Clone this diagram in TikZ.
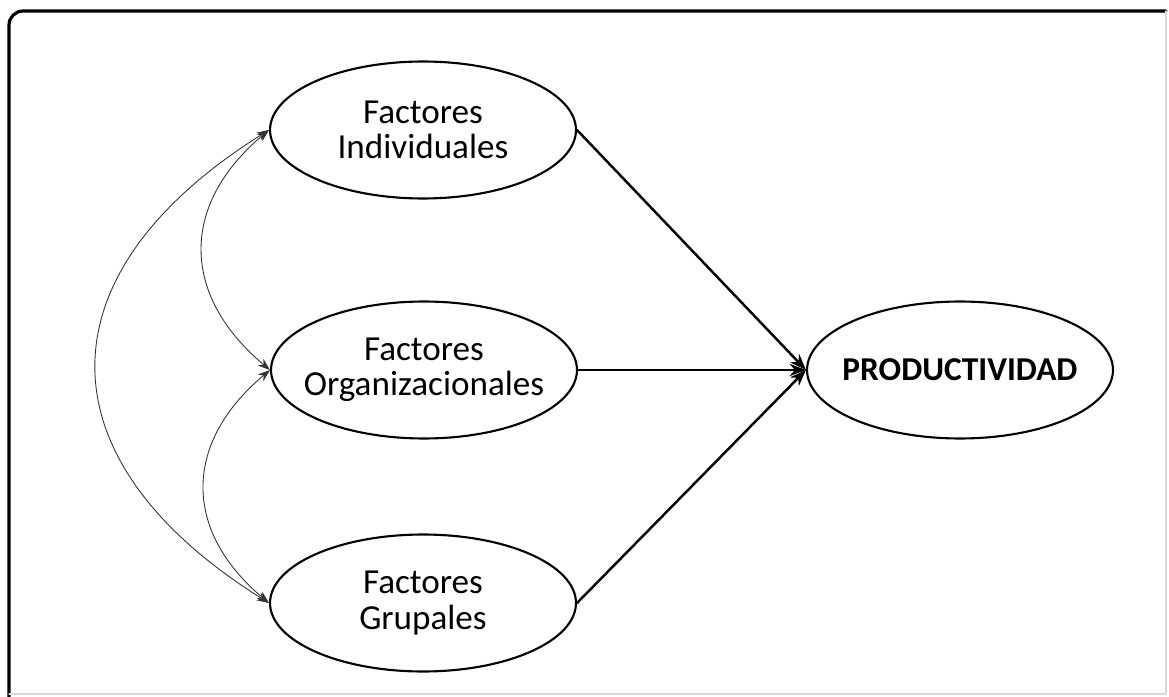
\documentclass[tikz,border=0pt]{standalone}
\usepackage{fontspec}
\setmainfont{Carlito}
\usetikzlibrary{shapes.geometric,arrows.meta}
\begin{document}
\begin{tikzpicture}[x=0.02cm, y=-0.02cm, >=Stealth, line join=round, line cap=round,
		factor/.style={ellipse, draw, line width=1.2pt, minimum width=6.12cm, minimum height=2.74cm, inner xsep=-0.4cm, inner ysep=0pt, align=center, font=\fontsize{20}{20}\selectfont},
		flecha/.style={->, line width=1.4pt},
		enlace/.style={{Stealth[length=7pt,width=5pt]}-{Stealth[length=7pt,width=5pt]}, line width=0.5pt, draw=black!80}]
	\useasboundingbox (0,0) rectangle (1169,696);
	\draw[line width=1.8pt, rounded corners=8] (9,700) -- (9,11) -- (1166,11);
	\draw[black!15, line width=0.6pt] (1166,11) -- (1166,694) -- (9,694);
	\path (423,130) node[factor] (ind) {Factores\\Individuales}
		(424,370) node[factor] (org) {Factores\\Organizacionales}
		(423,603) node[factor] (gru) {Factores\\Grupales}
		(960,370) node[factor, font=\fontsize{19}{20}\selectfont\bfseries] (prod) {PRODUCTIVIDAD};
	\foreach \x in {ind,org,gru}{
		\draw[flecha] (\x.east) -- (prod.west);
	}
	\draw[enlace] (ind.west) to[out=-140, in=140, looseness=1.24] (org.west);
	\draw[enlace] (org.west) to[out=-140, in=140, looseness=1.24] (gru.west);
	\draw[enlace] (ind.west) to[out=-148, in=148, looseness=1.47] (gru.west);
\end{tikzpicture}
\end{document}
